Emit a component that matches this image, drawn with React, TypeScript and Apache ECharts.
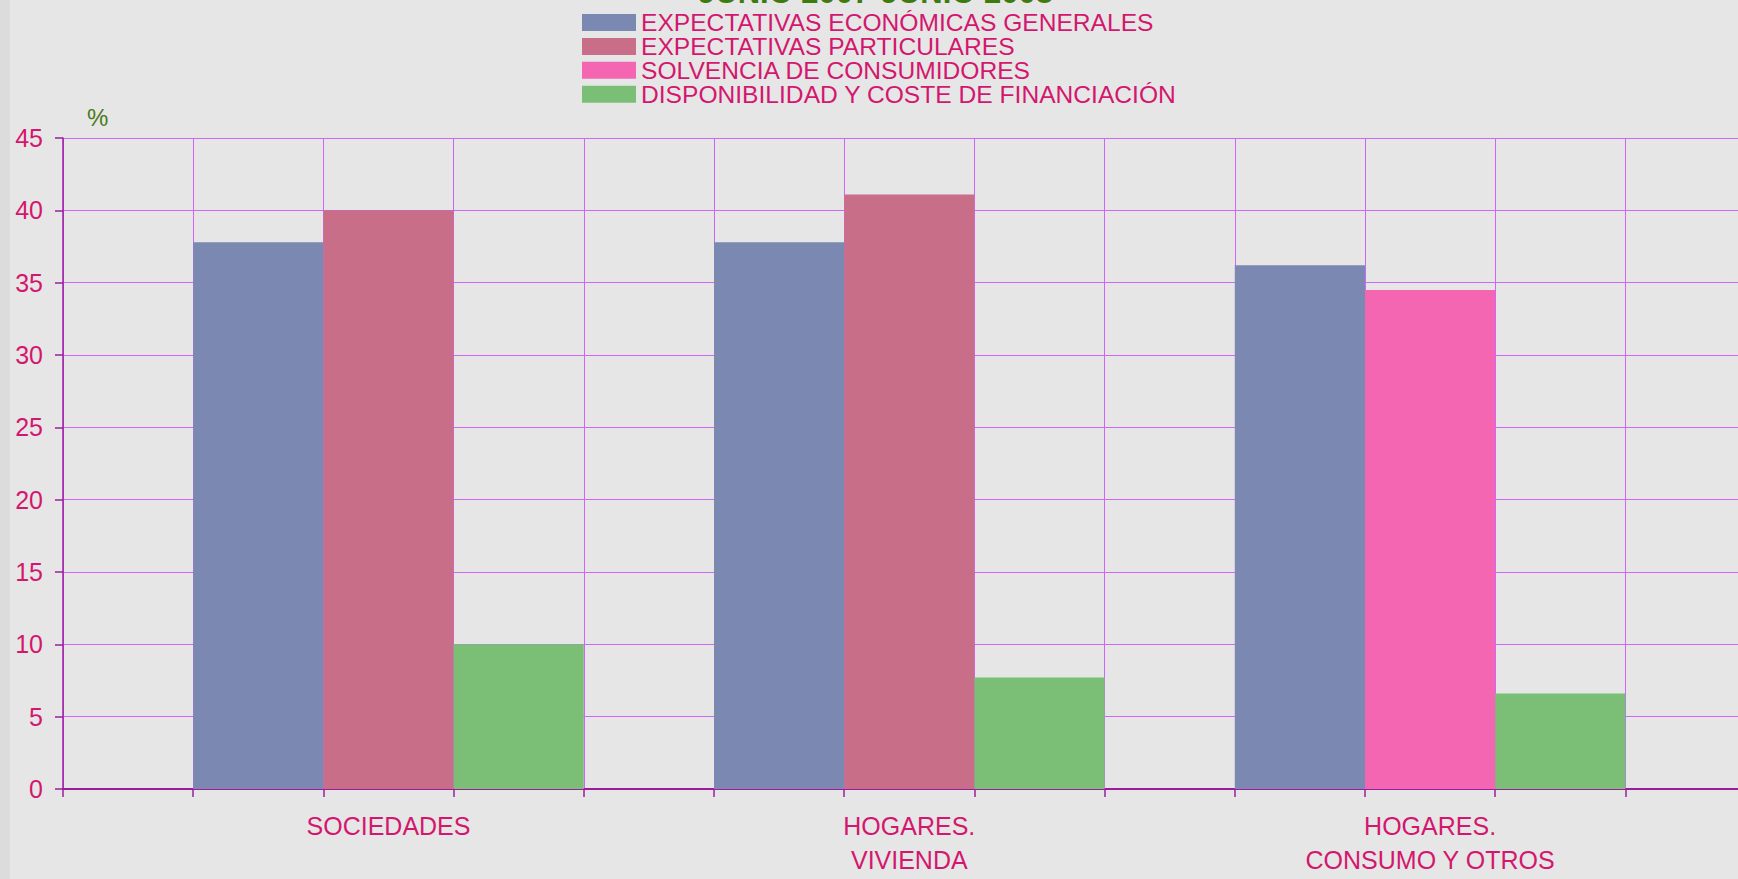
import React, { useEffect, useRef } from "react";
import * as echarts from "echarts";

// Groups shown on the category axis
const groups = ["SOCIEDADES", "HOGARES.\nVIVIENDA", "HOGARES.\nCONSUMO Y OTROS"];

// Series names (legend order)
const seriesNames = [
  "EXPECTATIVAS ECONÓMICAS GENERALES",
  "EXPECTATIVAS PARTICULARES",
  "SOLVENCIA DE CONSUMIDORES",
  "DISPONIBILIDAD Y COSTE DE FINANCIACIÓN",
];

// Percentages per group (null = not applicable)
const generales = [37.8, 37.8, 36.2];
const particulares = [40.0, 41.1, null];
const solvencia = [null, null, 34.5];
const financiacion = [10.0, 7.7, 6.6];

const yTicks = [0, 5, 10, 15, 20, 25, 30, 35, 40, 45];

const colors = ["#7a88b2", "#c86e89", "#f466b2", "#7bbf77"];
const labelColor = "#d4176e";
const gridColor = "#cc66ff";
const axisColor = "#9c1c9c";
const font = "'Liberation Sans', Arial, sans-serif";

// Each group gets one empty slot followed by one slot per available bar,
// and the axis closes with a trailing empty slot.
function buildSlots() {
  const values = [generales, particulares, solvencia, financiacion];
  const slotLabels: string[] = [];
  const seriesData: (number | null)[][] = values.map(() => []);
  const push = (label: string, filled: number, v: number | null) => {
    slotLabels.push(label);
    values.forEach((_, s) => seriesData[s].push(s === filled ? v : null));
  };
  groups.forEach((g, gi) => {
    push("", -1, null);
    const present = values
      .map((arr, s) => ({ s, v: arr[gi] }))
      .filter((d) => d.v !== null);
    const mid = Math.floor(present.length / 2);
    present.forEach((d, k) => push(k === mid ? g : "", d.s, d.v));
  });
  push("", -1, null);
  return { slotLabels, seriesData };
}

export default function App() {
  const ref = useRef<HTMLDivElement>(null);

  useEffect(() => {
    if (!ref.current) return;
    const chart = echarts.init(ref.current, null, { renderer: "svg" });
    const { slotLabels, seriesData } = buildSlots();

    chart.setOption({
      animation: false,
      backgroundColor: "#e6e6e6",
      textStyle: { fontFamily: font },
      title: {
        text: "JUNIO 2007-JUNIO 2008",
        left: 698,
        top: -23,
        padding: 0,
        textStyle: {
          color: "#3f7a0c",
          fontFamily: font,
          fontWeight: "bold",
          fontSize: 31,
          lineHeight: 31,
        },
      },
      legend: {
        orient: "vertical",
        left: 582,
        top: 10,
        padding: 0,
        itemWidth: 54,
        itemHeight: 17,
        itemGap: -1.1,
        icon: "rect",
        selectedMode: false,
        data: seriesNames,
        textStyle: {
          color: labelColor,
          fontFamily: font,
          fontSize: 24.6,
          lineHeight: 20,
        },
      },
      graphic: [
        {
          type: "rect",
          left: 0,
          top: 0,
          shape: { width: 10, height: 879 },
          style: { fill: "#dcdcdc" },
        },
      ],
      grid: { left: 63, top: 138, width: 1692.6, bottom: 90, containLabel: false },
      xAxis: {
        type: "category",
        data: slotLabels.map((_, i) => "s" + i),
        boundaryGap: true,
        axisLine: { lineStyle: { color: axisColor, width: 2 } },
        axisTick: {
          show: true,
          interval: 0,
          length: 8,
          lineStyle: { color: axisColor, width: 1.5 },
        },
        splitLine: {
          show: true,
          interval: 0,
          lineStyle: { color: gridColor, width: 1 },
        },
        axisLabel: {
          interval: 0,
          margin: 20,
          color: labelColor,
          fontFamily: font,
          fontSize: 25,
          lineHeight: 34,
          formatter: (_v: string, i: number) => slotLabels[i],
        },
      },
      yAxis: {
        type: "value",
        min: yTicks[0],
        max: yTicks[yTicks.length - 1],
        interval: 5,
        name: "%",
        nameLocation: "end",
        nameGap: 9,
        nameTextStyle: {
          color: "#4a7a1a",
          fontFamily: font,
          fontSize: 24,
          align: "left",
          verticalAlign: "bottom",
          padding: [0, 0, 0, 24],
        },
        axisLine: { show: true, lineStyle: { color: axisColor, width: 1.5 } },
        axisTick: { show: true, length: 8, lineStyle: { color: axisColor, width: 1.5 } },
        splitLine: { show: true, lineStyle: { color: gridColor, width: 1 } },
        axisLabel: {
          margin: 20,
          color: labelColor,
          fontFamily: font,
          fontSize: 25,
        },
      },
      series: seriesNames.map((name, s) => ({
        name,
        type: "bar",
        stack: "slot",
        barWidth: "100%",
        itemStyle: { color: colors[s] },
        data: seriesData[s],
      })),
    });

    return () => chart.dispose();
  }, []);

  return (
    <div
      ref={ref}
      style={{ position: "fixed", left: 0, top: 0, width: 1760, height: 879 }}
    />
  );
}
